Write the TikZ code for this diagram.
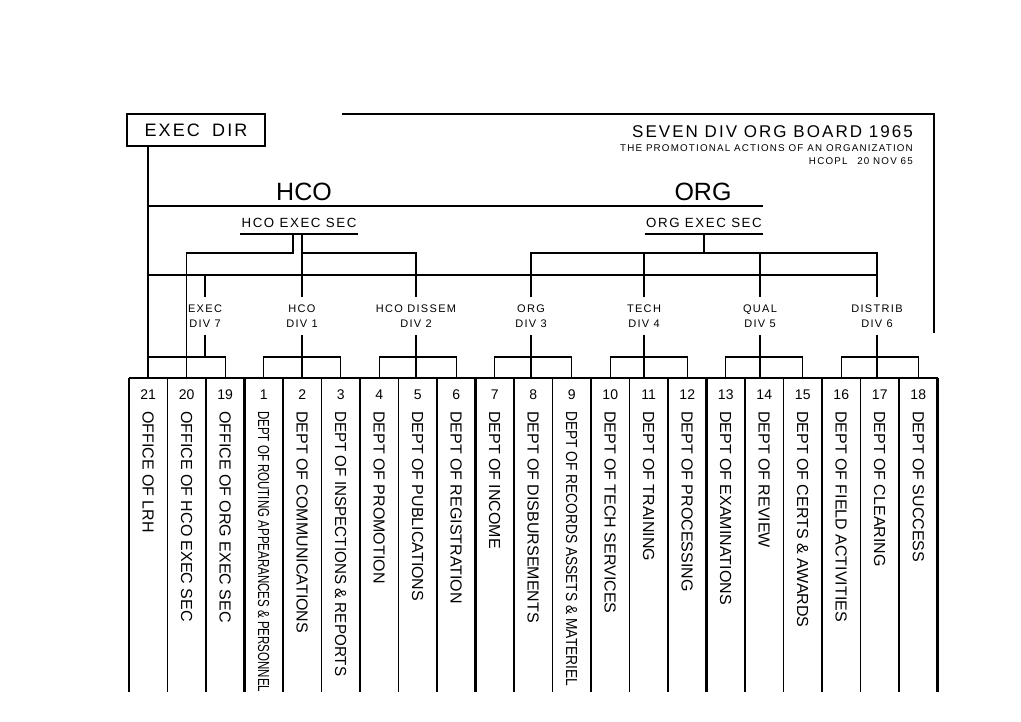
\documentclass[tikz,border=0pt]{standalone}
\usepackage{graphicx}
\usepackage{fontspec}
\setmainfont{Liberation Sans}
\newfontfamily\widefont{Liberation Sans}[LetterSpace=12]
\usetikzlibrary{positioning}
\begin{document}
\begin{tikzpicture}[x=1pt,y=-1pt,
  link/.style={line width=1.3pt},
  colline/.style={line width=1.5pt},
  grpline/.style={line width=2.6pt},
  dept/.style={minimum width=38.5pt,minimum height=314pt,anchor=north,inner sep=0pt},
  num/.style={inner sep=0pt,font=\fontsize{14}{14}\selectfont},
  deptname/.style={rotate=-90,anchor=west,inner sep=0pt,font=\fontsize{16}{16}\selectfont},
  div/.style={align=center,minimum height=38pt,inner sep=1pt,font=\widefont\fontsize{11}{15}\selectfont},
  sec/.style={inner xsep=1pt,inner ysep=6pt,font=\widefont\fontsize{13.3}{14}\selectfont},
  big/.style={inner sep=0pt,font=\fontsize{25}{25}\selectfont},
  sub/.style={inner sep=0pt,font=\widefont\fontsize{9.8}{10}\selectfont}]
\useasboundingbox (0,0) rectangle (1021,721);
% heading
\node[draw,line width=2pt,minimum width=138pt,minimum height=32pt,font=\widefont\fontsize{18}{18}\selectfont] (exec) at (196,130) {EXEC\hspace{5pt} DIR};
\node[inner sep=0pt,anchor=east,font=\widefont\fontsize{17}{17}\selectfont] (title) at (913,132) {SEVEN DIV ORG BOARD 1965};
\node[sub,below left=6.5pt and 0pt of title.south east] (subtitle) {THE PROMOTIONAL ACTIONS OF AN ORGANIZATION};
\node[sub,below left=5pt and 0pt of subtitle.south east] (policy) {HCOPL\quad 20 NOV 65};
\draw[link] (342,114) -- (934,114) -- (934,333);
\node[big] (hco) at (304,192) {HCO};
\node[big] (org) at (703,192) {ORG};
\node[sec] (hsec) at (299,223) {HCO EXEC SEC};
\node[sec] (osec) at (704,223) {ORG EXEC SEC};
% divisions
\node[div] (d7) at (205,316) {EXEC\\DIV 7};
\node[div] (d1) at (302,316) {HCO\\DIV 1};
\node[div] (d2) at (416,316) {HCO DISSEM\\DIV 2};
\node[div] (d3) at (531,316) {ORG\\DIV 3};
\node[div] (d4) at (644,316) {TECH\\DIV 4};
\node[div] (d5) at (760,316) {QUAL\\DIV 5};
\node[div] (d6) at (877,316) {DISTRIB\\DIV 6};
% departments
\foreach \n/\s/\t [count=\i from 0] in {21/1/OFFICE OF LRH,20/1/OFFICE OF HCO EXEC SEC,19/1/OFFICE OF ORG EXEC SEC,
  1/0.72/DEPT OF ROUTING APPEARANCES \& PERSONNEL,2/1/DEPT OF COMMUNICATIONS,3/0.95/DEPT OF INSPECTIONS \& REPORTS,
  4/1/DEPT OF PROMOTION,5/1/DEPT OF PUBLICATIONS,6/1/DEPT OF REGISTRATION,
  7/1/DEPT OF INCOME,8/1/DEPT OF DISBURSEMENTS,9/0.86/DEPT OF RECORDS ASSETS \& MATERIEL,
  10/1/DEPT OF TECH SERVICES,11/1/DEPT OF TRAINING,12/1/DEPT OF PROCESSING,
  13/1/DEPT OF EXAMINATIONS,14/1/DEPT OF REVIEW,15/1/DEPT OF CERTS \& AWARDS,
  16/1/DEPT OF FIELD ACTIVITIES,17/1/DEPT OF CLEARING,18/1/DEPT OF SUCCESS}{
  \node[dept] (c\n) at ({148.25+38.5*\i},378) {};
  \node[num] (n\n) at ([yshift=-17pt]c\n.north) {\n};
  \node[deptname] (t\n) at ([yshift=-33pt]c\n.north) {\scalebox{\s}[1]{\t}};
}
\foreach \n in {21,20,19,1,2,3,4,5,6,7,8,9,10,11,12,13,14,15,16,17,18}
  \draw[colline] (c\n.north west) -- (c\n.south west);
\foreach \n in {21,1,4,7,10,13,16}
  \draw[grpline] (c\n.north west) -- (c\n.south west);
\draw[grpline] (c18.north east) -- (c18.south east);
\draw[grpline] (c21.north west) -- (c18.north east);
% lines
\coordinate (orgend) at (763,206);
\coordinate (hbus) at (0,253);
\coordinate (divbus) at (0,275);
\coordinate (brk) at (0,357);
\draw[line width=2pt] (exec.south -| c21.north) -- (c21.north);
\draw[link] (c21.north |- orgend) -- (orgend);
\draw[link] (c21.north |- divbus) -- (d6.north |- divbus);
\draw[link] (hsec.south west) -- (hsec.south east);
\draw[link] (osec.south west) -- (osec.south east);
\draw[link] ([xshift=-6pt]hsec.south) |- (c20.north |- hbus) -- (c20.north);
\draw[link] (d1.north |- hsec.south) -- (d1.north);
\draw[link] (d1.north |- hbus) -| (d2.north);
\draw[link] (osec.south) -- (osec.south |- hbus);
\draw[link] (d3.north) |- (d6.north |- hbus) -- (d6.north);
\draw[link] (d4.north |- hbus) -- (d4.north);
\draw[link] (d5.north |- hbus) -- (d5.north);
\draw[link] (d7.north |- divbus) -- (d7.north);
\draw[link] (d7.south) -- (d7.south |- brk);
\draw[link] (c21.north |- brk) -| (c19.north);
\foreach \d/\a/\b/\c in {1/1/2/3,2/4/5/6,3/7/8/9,4/10/11/12,5/13/14/15,6/16/17/18}{
  \draw[link] (d\d.south) -- (d\d.south |- c\b.north);
  \draw[link] (c\a.north) |- (brk -| c\b.north) -| (c\c.north);
}
\end{tikzpicture}
\end{document}
